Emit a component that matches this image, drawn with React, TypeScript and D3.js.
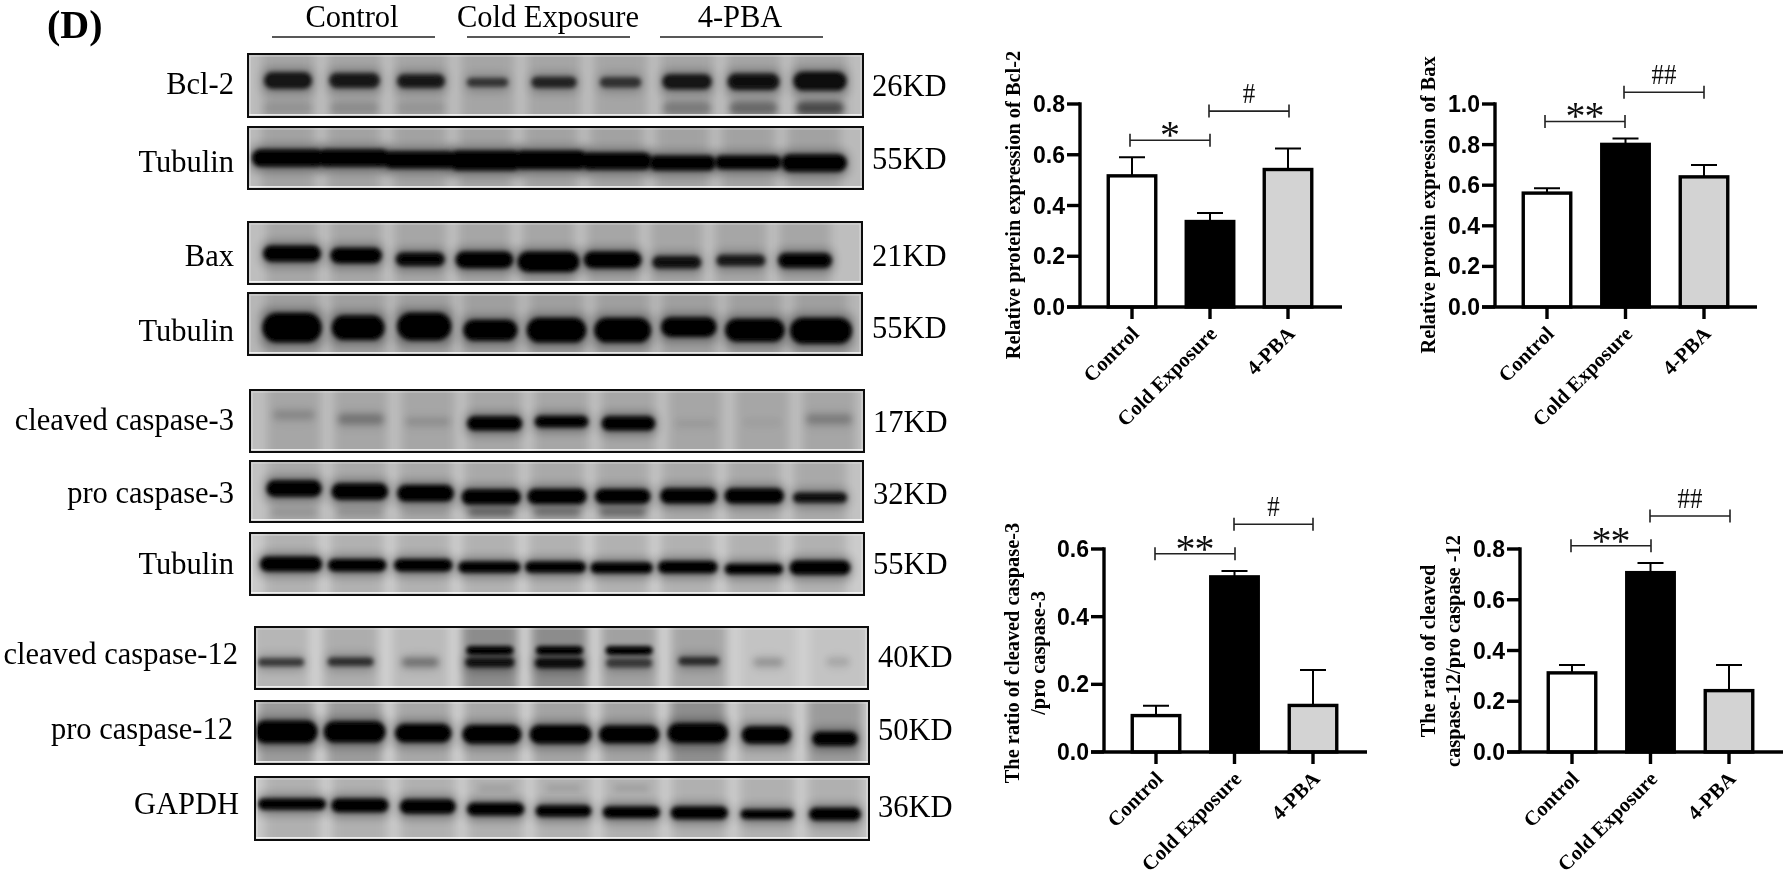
import React from "react";
import * as d3 from "d3";

// ---------- bar chart data ----------
const groups = ["Control", "Cold Exposure", "4-PBA"];
const bcl2Means = [0.52, 0.34, 0.545];
const bcl2Upper = [0.59, 0.37, 0.625];
const baxMeans = [0.565, 0.805, 0.645];
const baxUpper = [0.585, 0.83, 0.7];
const casp3Means = [0.11, 0.52, 0.14];
const casp3Upper = [0.137, 0.535, 0.242];
const casp12Means = [0.315, 0.71, 0.245];
const casp12Upper = [0.343, 0.745, 0.343];
const ticks08 = [0, 0.2, 0.4, 0.6, 0.8];
const ticks10 = [0, 0.2, 0.4, 0.6, 0.8, 1.0];
const ticks06 = [0, 0.2, 0.4, 0.6];
const barFills = ["#ffffff", "#000000", "#d3d3d3"];

// ---------- blot densitometry, one value per lane ----------
// Mid = migration (% of the strip height), Thick = band thickness (%), Wide = share of lane step, Dens = darkness
const bcl2Mid = [42, 42, 43, 45, 45, 45, 44, 44, 43];
const bcl2Thick = [26, 24, 22, 14, 18, 16, 24, 26, 30];
const bcl2Wide = [0.72, 0.76, 0.72, 0.62, 0.68, 0.62, 0.74, 0.78, 0.8];
const bcl2Dens = [0.84, 0.8, 0.8, 0.62, 0.72, 0.64, 0.84, 0.86, 0.9];
const bcl2Lower = [0.1, 0.14, 0.09, 0, 0, 0, 0.25, 0.36, 0.55];

const tub1Mid = [50, 50, 53, 54, 53, 55, 58, 57, 58];
const tub1Thick = [28, 28, 28, 32, 30, 28, 24, 22, 28];
const tub1Wide = [1.1, 1.1, 1.1, 1.12, 1.12, 1.08, 1.02, 1.02, 1.0];
const tub1Dens = [1, 1, 1, 1, 1, 1, 1, 1, 1];

const baxMid = [51, 54, 60, 61, 64, 61, 65, 62, 62];
const baxThick = [26, 25, 22, 27, 33, 27, 20, 18, 24];
const baxWide = [0.9, 0.8, 0.76, 0.9, 0.97, 0.9, 0.76, 0.76, 0.84];
const baxDens = [1, 1, 0.95, 1, 1, 1, 0.86, 0.8, 0.96];

const tub2Mid = [56, 56, 54, 60, 60, 60, 55, 60, 61];
const tub2Thick = [48, 40, 45, 34, 40, 40, 32, 37, 42];
const tub2Wide = [0.9, 0.8, 0.82, 0.82, 0.9, 0.86, 0.84, 0.9, 0.94];
const tub2Dens = [1, 1, 1, 1, 1, 1, 1, 1, 1];

const cc3Mid = [40, 47, 51, 54, 51, 54, 54, 52, 47];
const cc3Thick = [14, 16, 12, 23, 19, 23, 9, 8, 15];
const cc3Wide = [0.62, 0.68, 0.66, 0.82, 0.8, 0.8, 0.6, 0.55, 0.68];
const cc3Dens = [0.14, 0.24, 0.11, 1, 0.98, 1, 0.06, 0.04, 0.2];

const pc3Mid = [45, 50, 53, 59, 58, 58, 57, 57, 60];
const pc3Thick = [27, 27, 27, 25, 25, 24, 25, 25, 17];
const pc3Wide = [0.84, 0.86, 0.86, 0.9, 0.9, 0.84, 0.86, 0.9, 0.82];
const pc3Dens = [1, 1, 1, 1, 1, 1, 1, 1, 0.88];
const pc3Lower = [0.12, 0.13, 0.07, 0.36, 0.3, 0.34, 0, 0, 0];

const tub3Mid = [50, 52, 52, 55, 55, 56, 55, 58, 56];
const tub3Thick = [24, 20, 20, 18, 18, 18, 20, 17, 23];
const tub3Wide = [0.94, 0.88, 0.88, 0.94, 0.92, 0.94, 0.9, 0.88, 0.92];
const tub3Dens = [1, 1, 1, 1, 1, 1, 1, 1, 1];

const cc12Mid = [57, 56, 57, 57, 58, 58, 55, 57, 56];
const cc12Thick = [13, 14, 13, 16, 16, 15, 13, 12, 11];
const cc12Wide = [0.66, 0.66, 0.52, 0.7, 0.7, 0.66, 0.58, 0.42, 0.32];
const cc12Dens = [0.62, 0.66, 0.34, 0.85, 0.92, 0.58, 0.68, 0.2, 0.12];
const cc12Upper = [0, 0, 0, 1, 1, 1, 0, 0, 0];
const cc12Haze = [0.12, 0.16, 0.1, 0.32, 0.32, 0.22, 0.2, 0.06, 0.06];

const pc12Mid = [49, 49, 51, 53, 53, 53, 51, 54, 60];
const pc12Thick = [36, 34, 30, 30, 30, 28, 31, 28, 22];
const pc12Wide = [0.92, 0.9, 0.82, 0.86, 0.9, 0.88, 0.88, 0.72, 0.66];
const pc12Dens = [1, 1, 1, 1, 1, 1, 1, 1, 1];
const pc12Haze = [0.24, 0.24, 0.18, 0.18, 0.2, 0.2, 0.3, 0.14, 0.24];

const gapdhMid = [43, 45, 47, 51, 54, 56, 57, 59, 59];
const gapdhThick = [18, 22, 23, 20, 18, 18, 20, 15, 20];
const gapdhWide = [1.0, 0.84, 0.82, 0.84, 0.82, 0.84, 0.84, 0.78, 0.76];
const gapdhDens = [1, 1, 1, 1, 1, 1, 1, 1, 1];
const gapdhUpper = [0, 0, 0, 0.18, 0.18, 0.18, 0, 0, 0];

type Blot = {
  id: string; label: string; size: string; x0: number; x1: number; y0: number; y1: number;
  lane0: number; lane8: number; bg: string; labelRight: number; labelBase: number; sizeLeft: number; sizeBase: number;
  mid: number[]; thick: number[]; wide: number[]; dens: number[];
  extra?: { level: number; thick: number; wide: number; dens: number[] }[]; haze?: number[];
};

const blots: Blot[] = [
  { id: "a", label: "Bcl-2", size: "26KD", x0: 248, x1: 863, y0: 54, y1: 117, lane0: 288, lane8: 820, bg: "#bdbdbd", labelRight: 234, labelBase: 94, sizeLeft: 872, sizeBase: 96,
    mid: bcl2Mid, thick: bcl2Thick, wide: bcl2Wide, dens: bcl2Dens, extra: [{ level: 86, thick: 22, wide: 0.72, dens: bcl2Lower }] },
  { id: "b", label: "Tubulin", size: "55KD", x0: 248, x1: 863, y0: 127, y1: 189, lane0: 288, lane8: 814, bg: "#bababa", labelRight: 234, labelBase: 172, sizeLeft: 872, sizeBase: 169,
    mid: tub1Mid, thick: tub1Thick, wide: tub1Wide, dens: tub1Dens },
  { id: "c", label: "Bax", size: "21KD", x0: 248, x1: 862, y0: 222, y1: 284, lane0: 292, lane8: 805, bg: "#bebebe", labelRight: 234, labelBase: 266, sizeLeft: 872, sizeBase: 266,
    mid: baxMid, thick: baxThick, wide: baxWide, dens: baxDens },
  { id: "d", label: "Tubulin", size: "55KD", x0: 248, x1: 862, y0: 293, y1: 355, lane0: 292, lane8: 821, bg: "#b6b6b6", labelRight: 234, labelBase: 341, sizeLeft: 872, sizeBase: 338,
    mid: tub2Mid, thick: tub2Thick, wide: tub2Wide, dens: tub2Dens },
  { id: "e", label: "cleaved caspase-3", size: "17KD", x0: 250, x1: 864, y0: 390, y1: 452, lane0: 294, lane8: 829, bg: "#bebebe", labelRight: 234, labelBase: 430, sizeLeft: 873, sizeBase: 432,
    mid: cc3Mid, thick: cc3Thick, wide: cc3Wide, dens: cc3Dens },
  { id: "f", label: "pro caspase-3", size: "32KD", x0: 250, x1: 863, y0: 461, y1: 522, lane0: 294, lane8: 820, bg: "#c2c2c2", labelRight: 234, labelBase: 503, sizeLeft: 873, sizeBase: 504,
    mid: pc3Mid, thick: pc3Thick, wide: pc3Wide, dens: pc3Dens, extra: [{ level: 84, thick: 14, wide: 0.7, dens: pc3Lower }] },
  { id: "g", label: "Tubulin", size: "55KD", x0: 250, x1: 864, y0: 533, y1: 595, lane0: 291, lane8: 820, bg: "#cbcbcb", labelRight: 234, labelBase: 574, sizeLeft: 873, sizeBase: 574,
    mid: tub3Mid, thick: tub3Thick, wide: tub3Wide, dens: tub3Dens },
  { id: "h", label: "cleaved caspase-12", size: "40KD", x0: 255, x1: 868, y0: 627, y1: 689, lane0: 281, lane8: 838, bg: "#d0d0d0", labelRight: 238, labelBase: 664, sizeLeft: 878, sizeBase: 667,
    mid: cc12Mid, thick: cc12Thick, wide: cc12Wide, dens: cc12Dens, extra: [{ level: 38, thick: 15, wide: 0.68, dens: cc12Upper }], haze: cc12Haze },
  { id: "i", label: "pro caspase-12", size: "50KD", x0: 255, x1: 869, y0: 701, y1: 764, lane0: 286, lane8: 835, bg: "#cdcdcd", labelRight: 233, labelBase: 739, sizeLeft: 878, sizeBase: 740,
    mid: pc12Mid, thick: pc12Thick, wide: pc12Wide, dens: pc12Dens, haze: pc12Haze },
  { id: "j", label: "GAPDH", size: "36KD", x0: 255, x1: 869, y0: 777, y1: 840, lane0: 292, lane8: 835, bg: "#cacaca", labelRight: 239, labelBase: 814, sizeLeft: 878, sizeBase: 817,
    mid: gapdhMid, thick: gapdhThick, wide: gapdhWide, dens: gapdhDens, extra: [{ level: 18, thick: 5, wide: 0.5, dens: gapdhUpper }] },
];

const headers = [
  { text: "Control", cx: 352, x0: 272, x1: 435 },
  { text: "Cold Exposure", cx: 548, x0: 467, x1: 630 },
  { text: "4-PBA", cx: 740, x0: 660, x1: 823 },
];

type Panel = {
  axisX: number; axisRight: number; c0: number; c2: number; yZero: number; yTop: number; max: number; ticks: number[];
  means: number[]; upper: number[]; titleX: number[]; titleY: number; title: string[];
  sigA: { mark: string; value: number; from: number; to: number }; sigB: { mark: string; value: number; from: number; to: number };
};

const panels: Panel[] = [
  { axisX: 1080, axisRight: 1342, c0: 1132, c2: 1288, yZero: 307, yTop: 104, max: 0.8, ticks: ticks08, means: bcl2Means, upper: bcl2Upper,
    titleX: [1020], titleY: 205, title: ["Relative protein expression of Bcl-2"],
    sigA: { mark: "*", value: 0.657, from: 1130, to: 1210 }, sigB: { mark: "#", value: 0.772, from: 1209, to: 1289 } },
  { axisX: 1495, axisRight: 1757, c0: 1547, c2: 1704, yZero: 307, yTop: 104, max: 1.0, ticks: ticks10, means: baxMeans, upper: baxUpper,
    titleX: [1435], titleY: 205, title: ["Relative protein expression of Bax"],
    sigA: { mark: "**", value: 0.914, from: 1545, to: 1625 }, sigB: { mark: "##", value: 1.058, from: 1624, to: 1704 } },
  { axisX: 1104, axisRight: 1367, c0: 1156, c2: 1313, yZero: 752, yTop: 549, max: 0.6, ticks: ticks06, means: casp3Means, upper: casp3Upper,
    titleX: [1019, 1045], titleY: 653, title: ["The ratio of cleaved caspase-3", "/pro caspase-3"],
    sigA: { mark: "**", value: 0.586, from: 1155, to: 1235 }, sigB: { mark: "#", value: 0.673, from: 1234, to: 1313 } },
  { axisX: 1520, axisRight: 1783, c0: 1572, c2: 1729, yZero: 752, yTop: 549, max: 0.8, ticks: ticks08, means: casp12Means, upper: casp12Upper,
    titleX: [1435, 1460], titleY: 651, title: ["The ratio of cleaved", "caspase-12/pro caspase -12"],
    sigA: { mark: "**", value: 0.813, from: 1571, to: 1651 }, sigB: { mark: "##", value: 0.93, from: 1650, to: 1730 } },
];

const SERIF = "'Liberation Serif', serif";
const SANS = "'Liberation Sans', sans-serif";

function BlotStrip({ b }: { b: Blot }) {
  const lane = d3.scalePoint<number>().domain(d3.range(9)).range([b.lane0, b.lane8]);
  const level = d3.scaleLinear().domain([0, 100]).range([b.y0, b.y1]);
  const step = lane.step();
  const thick = (t: number) => level(t) - level(0);
  const haze = b.haze || b.dens.map(() => 0.12);
  return (
    <g>
      <clipPath id={`clip-${b.id}`}><rect x={b.x0} y={b.y0} width={b.x1 - b.x0} height={b.y1 - b.y0} /></clipPath>
      <g clipPath={`url(#clip-${b.id})`}>
        <rect x={b.x0} y={b.y0} width={b.x1 - b.x0} height={b.y1 - b.y0} fill={b.bg} />
        {haze.map((d, i) => (
          <rect key={"h" + i} x={lane(i)! - step * 0.4} y={b.y0 - 8} width={step * 0.8} height={b.y1 - b.y0 + 16} fill="#000" opacity={d} filter="url(#blurWide)" />
        ))}
        {b.mid.map((m, i) => (
          <rect key={"halo" + i} x={lane(i)! - (step * b.wide[i]) / 2 - 2} y={level(m) - thick(b.thick[i]) / 2 - 4} width={step * b.wide[i] + 4} height={thick(b.thick[i]) + 9}
            rx={8} fill="#000" opacity={b.dens[i] * 0.32} filter="url(#blurWide)" />
        ))}
        {(b.extra || []).map((e, k) => e.dens.map((d, i) => d > 0 && (
          <rect key={`e${k}-${i}`} x={lane(i)! - (step * e.wide) / 2} y={level(e.level) - thick(e.thick) / 2} width={step * e.wide} height={thick(e.thick)}
            rx={thick(e.thick) / 2} fill="#000" opacity={d} filter={d < 0.7 ? "url(#blurSoft)" : "url(#blurBand)"} />
        )))}
        {b.mid.map((m, i) => (
          <rect key={"b" + i} x={lane(i)! - (step * b.wide[i]) / 2} y={level(m) - thick(b.thick[i]) / 2} width={step * b.wide[i]} height={thick(b.thick[i])}
            rx={thick(b.thick[i]) / 2} fill="#000" opacity={b.dens[i]} filter={b.dens[i] < 0.5 ? "url(#blurSoft)" : "url(#blurBand)"} />
        ))}
        <rect x={b.x0 + 2} y={b.y0 + 2} width={b.x1 - b.x0 - 4} height={b.y1 - b.y0 - 4} fill="none" stroke="#fff" strokeWidth={1.2} opacity={0.35} />
        <rect x={b.x0} y={b.y1 - 3} width={b.x1 - b.x0} height={1.5} fill="#fff" opacity={0.7} />
      </g>
      <rect x={b.x0} y={b.y0} width={b.x1 - b.x0} height={b.y1 - b.y0} fill="none" stroke="#111" strokeWidth={2} />
      <text x={b.labelRight} y={b.labelBase} textAnchor="end" fontFamily={SERIF} fontSize={30.5} fill="#000">{b.label}</text>
      <text x={b.sizeLeft} y={b.sizeBase} fontFamily={SERIF} fontSize={30.5} fill="#000">{b.size}</text>
    </g>
  );
}

function Sig({ s, y }: { s: Panel["sigA"]; y: number }) {
  const cx = (s.from + s.to) / 2;
  const marks = s.mark.split("");
  const isStar = marks[0] === "*";
  return (
    <g>
      <path d={`M${s.from},${y - 6.5}V${y + 6.5}M${s.from},${y}H${s.to}M${s.to},${y - 6.5}V${y + 6.5}`} fill="none" stroke="#222" strokeWidth={1.6} />
      {isStar
        ? marks.map((m, i) => (
            <text key={i} x={cx + (i - (marks.length - 1) / 2) * 19} y={y + 8} textAnchor="middle" fontFamily={SERIF} fontSize={40} fill="#111">{m}</text>
          ))
        : <text transform={`translate(${cx},${y - 8}) scale(0.86,1)`} textAnchor="middle" fontFamily={SERIF} fontSize={29} fill="#111">{s.mark}</text>}
    </g>
  );
}

function BarPanel({ p }: { p: Panel }) {
  const x = d3.scalePoint<string>().domain(groups).range([p.c0, p.c2]);
  const y = d3.scaleLinear().domain([0, p.max]).range([p.yZero, p.yTop]);
  const barW = 47.5;
  const sw = 3.4;
  return (
    <g>
      {p.title.map((t, i) => (
        <text key={i} transform={`translate(${p.titleX[i]},${p.titleY}) rotate(-90)`} textAnchor="middle" fontFamily={SERIF} fontWeight="bold" fontSize={20.4} fill="#000">{t}</text>
      ))}
      {groups.map((g, i) => (
        <g key={g}>
          <path d={`M${x(g)},${y(p.means[i])}V${y(p.upper[i])}M${x(g)! - 13},${y(p.upper[i])}H${x(g)! + 13}`} fill="none" stroke="#000" strokeWidth={2} />
          <rect x={x(g)! - barW / 2} y={y(p.means[i]) + 0.8} width={barW} height={p.yZero - y(p.means[i]) - 0.8} fill={barFills[i]} stroke="#000" strokeWidth={sw} />
        </g>
      ))}
      <line x1={p.axisX} x2={p.axisX} y1={p.yTop - 1.7} y2={p.yZero} stroke="#000" strokeWidth={sw} />
      <line x1={p.axisX - 13} x2={p.axisRight} y1={p.yZero} y2={p.yZero} stroke="#000" strokeWidth={sw} />
      {p.ticks.map((t) => (
        <g key={t}>
          <line x1={p.axisX - 13} x2={p.axisX} y1={y(t)} y2={y(t)} stroke="#000" strokeWidth={sw} />
          <text x={p.axisX - 15} y={y(t) + 8} textAnchor="end" fontFamily={SANS} fontWeight="bold" fontSize={23} fill="#000">{d3.format(".1f")(t)}</text>
        </g>
      ))}
      {groups.map((g) => (
        <g key={g}>
          <line x1={x(g)} x2={x(g)} y1={p.yZero} y2={p.yZero + 12} stroke="#000" strokeWidth={sw} />
          <text transform={`translate(${x(g)! + 8},${p.yZero + 28}) rotate(-45)`} textAnchor="end" fontFamily={SERIF} fontWeight="bold" fontSize={20.6} fill="#000">{g}</text>
        </g>
      ))}
      <Sig s={p.sigA} y={y(p.sigA.value)} />
      <Sig s={p.sigB} y={y(p.sigB.value)} />
    </g>
  );
}

export default function App() {
  return (
    <svg width={1786} height={876} viewBox="0 0 1786 876" style={{ position: "absolute", left: 0, top: 0, display: "block", background: "#fff" }}>
      <defs>
        <filter id="blurBand" x="-30%" y="-80%" width="160%" height="260%"><feGaussianBlur stdDeviation="2.1" /></filter>
        <filter id="blurSoft" x="-30%" y="-120%" width="160%" height="340%"><feGaussianBlur stdDeviation="3.2" /></filter>
        <filter id="blurWide" x="-40%" y="-60%" width="180%" height="220%"><feGaussianBlur stdDeviation="5" /></filter>
        <filter id="soften" filterUnits="userSpaceOnUse" x="0" y="0" width="1786" height="876"><feGaussianBlur stdDeviation="0.4" /></filter>
      </defs>
      <g filter="url(#soften)">
        <rect width={1786} height={876} fill="#fff" />
        <text x={47} y={38} fontFamily={SERIF} fontWeight="bold" fontSize={40} fill="#000">(D)</text>
        {headers.map((h) => (
          <g key={h.text}>
            <text x={h.cx} y={27} textAnchor="middle" fontFamily={SERIF} fontSize={30.5} fill="#000">{h.text}</text>
            <line x1={h.x0} x2={h.x1} y1={37} y2={37} stroke="#222" strokeWidth={1.6} />
          </g>
        ))}
        {blots.map((b) => <BlotStrip key={b.id} b={b} />)}
        {panels.map((p, i) => <BarPanel key={i} p={p} />)}
      </g>
    </svg>
  );
}
